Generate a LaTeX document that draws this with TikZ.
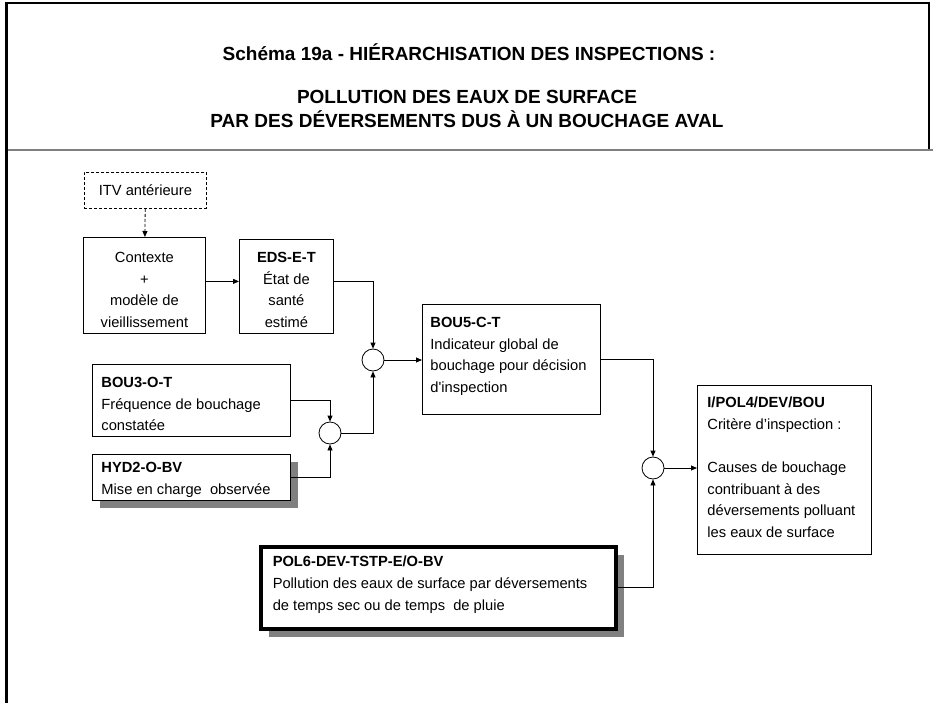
\documentclass[tikz,border=0pt]{standalone}
\usepackage{fontspec}
\setmainfont{Liberation Sans}
\usetikzlibrary{arrows.meta,shadows,calc}
\newcommand\bt[5]{\parbox[t][#2][t]{#1}{#3\rule{0pt}{#4}#5}}
\begin{document}
\begin{tikzpicture}[x=1pt,y=-1pt,
  font=\fontsize{14.7}{21.7}\selectfont,
  box/.style={draw, line width=0.8pt, fill=white, anchor=north west, inner xsep=9pt, inner ysep=0pt},
  cbox/.style={box, inner xsep=4pt},
  arr/.style={line width=0.8pt, -{Triangle[length=6pt,width=5pt]}},
  junc/.style={circle, draw, line width=0.8pt, fill=white, minimum size=22pt, inner sep=0pt},
  shad/.style={drop shadow={shadow xshift=8pt, shadow yshift=-8pt, fill=black!50, opacity=1}},
  ttl/.style={font=\fontsize{19}{22}\selectfont\bfseries, inner sep=0pt}]
\useasboundingbox (0,0) rectangle (933,703);
% frame
\draw[line width=2.5pt] (6.5,703) -- (6.5,3) -- (929,3) -- (929,149);
\draw[line width=2pt, black!50] (7.5,150) -- (933,150);
% title
\node[ttl] (t1) at (469,52) {Schéma 19a - HIÉRARCHISATION DES INSPECTIONS :};
\node[ttl] (t2) at (467,97) {POLLUTION DES EAUX DE SURFACE};
\node[ttl] (t3) at (467,119) {PAR DES DÉVERSEMENTS DUS À UN BOUCHAGE AVAL};
% boxes
\node[cbox, dash pattern=on 3pt off 2pt] (itv) at (84,172) {\bt{114pt}{36pt}{\centering}{23pt}{ITV antérieure}};
\node[cbox] (ctx) at (83,237) {\bt{114pt}{96pt}{\centering}{25pt}{Contexte\\+\\modèle de\\vieillissement}};
\node[cbox] (eds) at (239,239) {\bt{86pt}{94pt}{\centering}{23pt}{\textbf{EDS-E-T}\\État de\\santé\\estimé}};
\node[box, inner xsep=8pt] (bou5) at (422,304) {\bt{162pt}{110pt}{\raggedright}{23pt}{\textbf{BOU5-C-T}\\Indicateur global de\\bouchage pour décision\\d\textquotesingle inspection}};
\node[box] (bou3) at (92,364) {\bt{180pt}{72pt}{\raggedright}{23pt}{\textbf{BOU3-O-T}\\Fréquence de bouchage\\constatée}};
\node[box, shad] (hyd2) at (92,454) {\bt{180pt}{46pt}{\raggedright}{18pt}{\textbf{HYD2-O-BV}\\Mise en charge\ \ observée}};
\node[box, inner xsep=10pt] (pol4) at (697,385) {\bt{154pt}{169pt}{\raggedright}{22pt}{\textbf{I/POL4/DEV/BOU}\\Critère d’inspection :\\[21.7pt]Causes de bouchage\\contribuant à des\\déversements polluant\\les eaux de surface}};
\node[box, shad, line width=3.5pt, inner xsep=12pt] (pol6) at (259,545) {\bt{331pt}{82pt}{\raggedright}{20pt}{\textbf{POL6-DEV-TSTP-E/O-BV}\\Pollution des eaux de surface par déversements\\de temps sec ou de temps\ \ de pluie}};
% junctions
\node[junc] (c1) at (373,360) {};
\node[junc] (c2) at (330,433) {};
\node[junc] (c3) at (653,468) {};
% connectors
\draw[arr, dash pattern=on 3pt off 2pt] (itv) -- (ctx);
\draw[arr] ([yshift=4pt]ctx.east) -- ([yshift=4pt]ctx.east -| eds.west);
\draw[arr] ([yshift=5pt]eds.east) -| (c1.north);
\draw[arr] (c1.east) -- (c1.east -| bou5.west);
\draw[arr] (bou3.east) -| (c2.north);
\draw[arr] (hyd2.east) -| (c2.south);
\draw[arr] (c2.east) -| (c1.south);
\draw[arr] (bou5.east) -| (c3.north);
\draw[arr] (c3.east) -- (c3.east -| pol4.west);
\draw[arr] (pol6.east) -| (c3.south);
\end{tikzpicture}
\end{document}
